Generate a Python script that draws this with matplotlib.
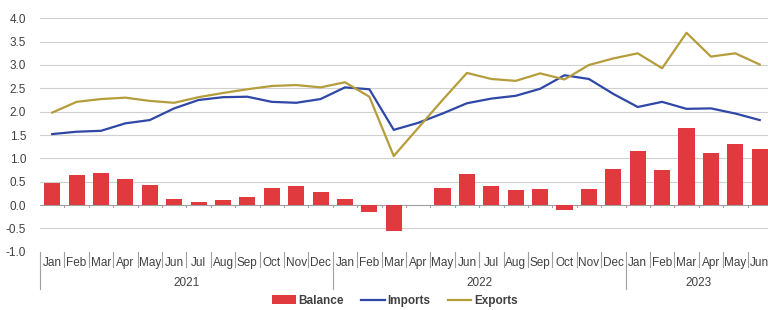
import matplotlib
matplotlib.use("Agg")
import matplotlib.pyplot as plt
import matplotlib.transforms as mtransforms
from matplotlib.patches import Patch
from matplotlib.lines import Line2D

plt.rcParams['font.family'] = ['Liberation Sans', 'DejaVu Sans']

months = ['Jan', 'Feb', 'Mar', 'Apr', 'May', 'Jun', 'Jul', 'Aug', 'Sep', 'Oct', 'Nov', 'Dec',
          'Jan', 'Feb', 'Mar', 'Apr', 'May', 'Jun', 'Jul', 'Aug', 'Sep', 'Oct', 'Nov', 'Dec',
          'Jan', 'Feb', 'Mar', 'Apr', 'May', 'Jun']
years = ['2021', '2022', '2023']

imports = [1.52, 1.57, 1.59, 1.75, 1.82, 2.07, 2.25, 2.31, 2.32, 2.21, 2.19, 2.27,
           2.52, 2.48, 1.61, 1.76, 1.96, 2.18, 2.28, 2.34, 2.49, 2.78, 2.70, 2.38,
           2.10, 2.21, 2.06, 2.07, 1.96, 1.82]
exports = [1.98, 2.21, 2.27, 2.30, 2.23, 2.19, 2.31, 2.40, 2.48, 2.55, 2.57, 2.52,
           2.63, 2.32, 1.05, 1.65, 2.25, 2.83, 2.70, 2.66, 2.82, 2.69, 3.00, 3.14,
           3.25, 2.93, 3.69, 3.18, 3.25, 3.01]
balance = [0.48, 0.64, 0.68, 0.55, 0.42, 0.13, 0.06, 0.11, 0.17, 0.36, 0.40, 0.28,
           0.12, -0.15, -0.55, 0.0, 0.36, 0.66, 0.41, 0.32, 0.34, -0.10, 0.34, 0.77,
           1.15, 0.74, 1.64, 1.12, 1.31, 1.21]

RED = '#E0393E'
BLUE = '#2F47A6'
GOLD = '#B59D3B'
TXT = '#404040'

fig = plt.figure(figsize=(7.68, 3.10), dpi=100)
ax = fig.add_axes([40 / 768, 58.3 / 310, 1 - 40 / 768, 233.4 / 310])

x = list(range(len(months)))
ax.bar(x, balance, width=0.66, color=RED, zorder=2)
ax.plot(x, imports, color=BLUE, lw=1.6, zorder=3)
ax.plot(x, exports, color=GOLD, lw=1.6, zorder=3)

ax.set_xlim(-0.5, 29.34)
ax.set_ylim(-1.0, 4.0)
yt = [-1.0, -0.5, 0.0, 0.5, 1.0, 1.5, 2.0, 2.5, 3.0, 3.5, 4.0]
ax.set_yticks(yt)
ax.set_yticklabels([f'{v:.1f}' for v in yt], fontsize=8.5, color=TXT)
ax.tick_params(axis='y', length=0, pad=10)
ax.set_xticks([])
for v in yt:
    if v == -1.0:
        continue
    ax.axhline(v, color='#D0D0D0' if v != 0 else '#A0A0A0', lw=0.8, zorder=1)
for s in ax.spines.values():
    s.set_visible(False)

# small ticks on the zero line
for i in range(len(months)):
    ax.plot([i + 0.5, i + 0.5], [-0.05, 0.0], color='#A0A0A0', lw=0.8, zorder=1)

# category axis: months, separators, years
trans = mtransforms.blended_transform_factory(ax.transData, ax.transAxes)
for i, m in enumerate(months):
    ax.text(i, -0.048, m, transform=trans, ha='center', va='center', fontsize=8.5, color=TXT)
for i in range(len(months)):
    b = i - 0.5
    long_sep = b in (-0.5, 11.5, 23.5)
    ax.plot([b, b], [0.0, -0.16 if long_sep else -0.066], transform=trans,
            color='#A0A0A0', lw=0.8, clip_on=False)
for yr, c in zip(years, [5.5, 17.5, 26.5]):
    ax.text(c, -0.135, yr, transform=trans, ha='center', va='center', fontsize=8.5, color=TXT)

handles = [Patch(facecolor=RED, edgecolor='none'),
           Line2D([], [], color=BLUE, lw=1.6),
           Line2D([], [], color=GOLD, lw=1.6)]
fig.legend(handles, ['Balance', 'Imports', 'Exports'], loc='center',
           bbox_to_anchor=(0.514, 0.03), ncol=3, frameon=False,
           prop={'size': 8.5, 'weight': 'bold'}, handlelength=2.0, columnspacing=1.5,
           handletextpad=0.2, labelcolor=TXT, borderpad=0.1)

fig.savefig('out.png', dpi=100)
